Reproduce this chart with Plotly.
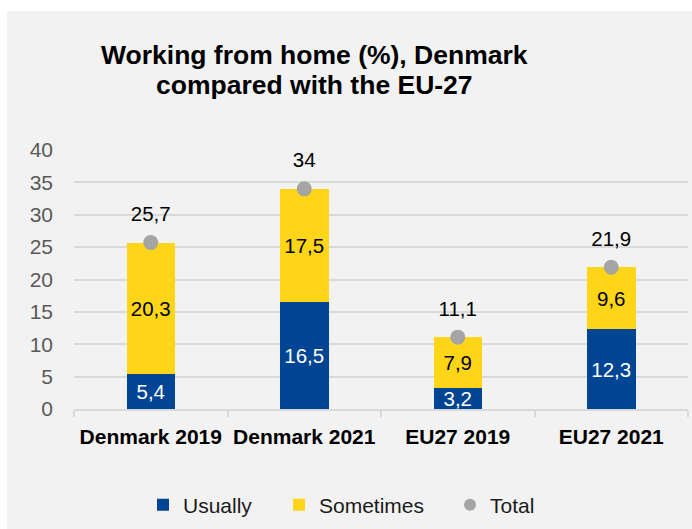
import plotly.graph_objects as go

# Working from home (%), Denmark vs EU-27
categories = ["Denmark 2019", "Denmark 2021", "EU27 2019", "EU27 2021"]
usually = [5.4, 16.5, 3.2, 12.3]
sometimes = [20.3, 17.5, 7.9, 9.6]
total = [25.7, 34, 11.1, 21.9]
y_ticks = [0, 5, 10, 15, 20, 25, 30, 35, 40]

BLUE = "#004494"
YELLOW = "#FFD617"
GREY_DOT = "#A5A5A5"
PANEL = "#F2F2F2"
GRID = "#D9D9D9"
FONT = "Liberation Sans, Arial, sans-serif"

W, H = 692, 529
M_L, M_R, M_T, M_B = 74, 4, 150, 120
PW = W - M_L - M_R
PH = H - M_T - M_B


def fmt(v):
    """Decimal comma, no trailing zero for whole numbers."""
    return f"{v:g}".replace(".", ",")


def px_x(x):
    return (x - M_L) / PW


def px_y(y):
    return (H - M_B - y) / PH


fig = go.Figure()

fig.add_trace(go.Bar(
    x=categories, y=usually, name="Usually",
    marker=dict(color=BLUE, line=dict(width=0)),
    text=[fmt(v) for v in usually],
    textposition="inside", insidetextanchor="middle", constraintext="none",
    textfont=dict(family=FONT, size=20.5, color="white"),
    legend="legend",
))
fig.add_trace(go.Bar(
    x=categories, y=sometimes, name="Sometimes",
    marker=dict(color=YELLOW, line=dict(width=0)),
    text=[fmt(v) for v in sometimes],
    textposition="inside", insidetextanchor="middle", constraintext="none",
    textfont=dict(family=FONT, size=20.5, color="black"),
    legend="legend2",
))
# total labels sit one and a half lines above the dot (two blank lines below the value)
fig.add_trace(go.Scatter(
    x=categories, y=total, name="Total",
    mode="markers+text",
    marker=dict(color=GREY_DOT, size=15),
    text=[fmt(v) + "<br> <br> " for v in total],
    textposition="middle center",
    textfont=dict(family=FONT, size=20.5, color="black"),
    cliponaxis=False,
    legend="legend3",
))

legend_common = dict(
    orientation="h", yanchor="middle", xanchor="left",
    bgcolor="rgba(0,0,0,0)", borderwidth=0,
    font=dict(family=FONT, size=21, color="#1a1a1a"),
    itemwidth=30, itemsizing="constant",
)

fig.update_layout(
    width=W, height=H,
    margin=dict(l=M_L, r=M_R, t=M_T, b=M_B, pad=0),
    paper_bgcolor=PANEL, plot_bgcolor=PANEL,
    barmode="stack", bargap=0.684,
    showlegend=True,
    legend=dict(x=px_x(143), y=px_y(505), **legend_common),
    legend2=dict(x=px_x(279), y=px_y(505), **legend_common),
    legend3=dict(x=px_x(450), y=px_y(505), **legend_common),
    xaxis=dict(
        type="category", showgrid=False,
        showline=True, linecolor=GRID, linewidth=1.5,
        ticks="outside", tickson="boundaries", ticklen=6, tickcolor=GRID, tickwidth=1.5,
        tickfont=dict(family=FONT, size=21, color="black", weight="bold"),
        ticklabelstandoff=8,
    ),
    yaxis=dict(
        range=[0, 40], tickvals=y_ticks, ticktext=[str(v) for v in y_ticks],
        showgrid=True, gridcolor=GRID, gridwidth=1.5,
        zeroline=False, showline=False, ticks="",
        tickfont=dict(family=FONT, size=21, color="#595959"),
        ticklabelstandoff=20,
    ),
    annotations=[
        dict(text="<b>Working from home (%), Denmark</b>", xref="paper", yref="paper",
             x=px_x(314), y=px_y(55), xanchor="center", yanchor="middle",
             showarrow=False, font=dict(family=FONT, size=26.5, color="black")),
        dict(text="<b>compared with the EU-27</b>", xref="paper", yref="paper",
             x=px_x(314), y=px_y(85), xanchor="center", yanchor="middle",
             showarrow=False, font=dict(family=FONT, size=26.5, color="black")),
    ],
    shapes=[
        # white margin strips around the grey panel
        dict(type="rect", xref="paper", yref="paper", layer="below",
             x0=px_x(0), x1=px_x(W + 2), y0=px_y(11), y1=px_y(-2),
             fillcolor="white", line=dict(width=0)),
        dict(type="rect", xref="paper", yref="paper", layer="below",
             x0=px_x(-2), x1=px_x(7), y0=px_y(H + 2), y1=px_y(-2),
             fillcolor="white", line=dict(width=0)),
    ],
)

fig.write_html("out.html")
